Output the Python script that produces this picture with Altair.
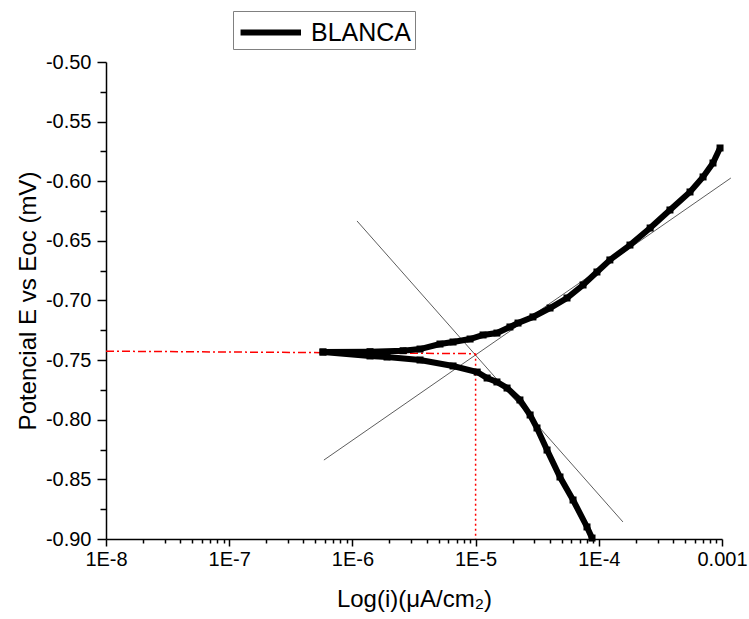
import altair as alt
import pandas as pd

# ---- data ----
# anodic (upper) branch : current density and potential
up_i = [5.77e-7, 1.39e-6, 2.58e-6, 3.54e-6, 5.14e-6, 6.56e-6, 9.02e-6, 1.15e-5,
        1.49e-5, 1.90e-5, 2.21e-5, 2.92e-5, 4.02e-5, 5.52e-5, 7.45e-5, 9.66e-5,
        1.23e-4, 1.79e-4, 2.61e-4, 3.78e-4, 5.50e-4, 7.02e-4, 8.45e-4, 9.64e-4]
up_E = [-0.7432, -0.7429, -0.7421, -0.7407, -0.7365, -0.7348, -0.7323, -0.7289,
        -0.7273, -0.7222, -0.7189, -0.7138, -0.7063, -0.6979, -0.6870, -0.6761,
        -0.6660, -0.6535, -0.6392, -0.6241, -0.6090, -0.5964, -0.5847, -0.5721]
# cathodic (lower) branch
lo_i = [5.77e-7, 1.39e-6, 1.91e-6, 3.54e-6, 6.56e-6, 1.03e-5, 1.24e-5, 1.49e-5,
        1.80e-5, 2.29e-5, 2.77e-5, 3.15e-5, 3.80e-5, 4.84e-5, 6.18e-5, 8.02e-5, 8.81e-5]
lo_E = [-0.7432, -0.7465, -0.7474, -0.7499, -0.7549, -0.7600, -0.7650, -0.7683,
        -0.7734, -0.7834, -0.7960, -0.8069, -0.8254, -0.8480, -0.8673, -0.8899, -0.8992]

# Tafel extrapolation lines
tafel_c_i = [1.09e-6, 1.57e-4]
tafel_c_E = [-0.6333, -0.8857]
tafel_a_i = [5.87e-7, 1.18e-3]
tafel_a_E = [-0.8338, -0.5973]

# Ecorr / icorr guide lines
ecorr_i = [1e-8, 1e-5]
ecorr_E = [-0.7425, -0.7446]
icorr_i = [1e-5, 1e-5]
icorr_E = [-0.7446, -0.90]

series_name = "BLANCA"
x_title = "Log(i)(μA/cm₂)"
y_title = "Potencial E vs Eoc (mV)"

# tick positions
x_ticks = []
for d in range(-8, -3):
    for k in range(1, 10):
        x_ticks.append(float(f"{k}e{d}"))
x_ticks.append(1e-3)
y_ticks = [round(-0.9 + 0.025 * k, 3) for k in range(17)]

# ---- tables ----
curve = pd.DataFrame({
    "i": up_i + lo_i,
    "E": up_E + lo_E,
    "branch": ["up"] * len(up_i) + ["lo"] * len(lo_i),
    "k": list(range(len(up_i))) + list(range(len(lo_i))),
    "serie": [series_name] * (len(up_i) + len(lo_i)),
})
tafel = pd.DataFrame({
    "i": tafel_c_i + tafel_a_i,
    "E": tafel_c_E + tafel_a_E,
    "line": ["c", "c", "a", "a"],
})
ecorr = pd.DataFrame({"i": ecorr_i, "E": ecorr_E})
icorr = pd.DataFrame({"i": icorr_i, "E": icorr_E})

FONT = "Liberation Sans"
DEC = "abs(log(datum.value)/LN10 - round(log(datum.value)/LN10)) < 0.01"
YMAJ = "abs(datum.value*20 - round(datum.value*20)) < 0.01"

xscale = alt.Scale(type="log", domain=[1e-8, 1e-3], nice=False)
yscale = alt.Scale(domain=[-0.9, -0.5], nice=False, zero=False)

xaxis = alt.Axis(
    values=x_ticks,
    labelExpr=f"({DEC}) ? (datum.value > 0.0005 ? '0.001' : '1E' + round(log(datum.value)/LN10)) : ''",
    tickSize={"condition": {"test": DEC, "value": 7}, "value": 4},
    labelOverlap=False, labelFlush=False, grid=False,
    title=x_title, labelPadding=3, titlePadding=18,
)
yaxis = alt.Axis(
    values=y_ticks,
    labelExpr=f"({YMAJ}) ? '-' + format(abs(datum.value), '.2f') : ''",
    tickSize={"condition": {"test": YMAJ, "value": 9}, "value": 6},
    labelOverlap=False, labelFlush=False, grid=False,
    title=y_title, labelPadding=6, titlePadding=5,
)

X = alt.X("i:Q", scale=xscale, axis=xaxis)
Y = alt.Y("E:Q", scale=yscale, axis=yaxis)

lines = alt.Chart(curve).mark_line(strokeWidth=6, clip=False).encode(
    x=X, y=Y, detail="branch:N", order="k:Q",
    color=alt.Color("serie:N", scale=alt.Scale(range=["black"]),
                    legend=alt.Legend(title=None, orient="none", legendX=127, legendY=-51,
                                      symbolType="M-0.9,0H3", symbolStrokeWidth=6, symbolSize=961,
                                      labelFontSize=25, labelFont=FONT, labelColor="black",
                                      strokeColor="#808080", fillColor="white", padding=3,
                                      labelOffset=38)),
)
pts = alt.Chart(curve).mark_square(size=49, color="black", opacity=1, clip=False).encode(x=X, y=Y)

tafel_l = alt.Chart(tafel).mark_line(color="#333333", strokeWidth=0.8, clip=False).encode(
    x=X, y=Y, detail="line:N")
ecorr_l = alt.Chart(ecorr).mark_line(color="#ff0000", strokeWidth=1.5, strokeDash=[8, 3, 2, 3]).encode(x=X, y=Y)
icorr_l = alt.Chart(icorr).mark_line(color="#ff0000", strokeWidth=1.5, strokeDash=[2, 3]).encode(x=X, y=Y)

chart = alt.layer(tafel_l, ecorr_l, icorr_l, lines, pts).properties(
    width=616, height=477,
    autosize=alt.AutoSizeParams(type="none"),
    padding={"left": 106, "top": 62, "right": 27, "bottom": 80},
).configure_view(stroke=None).configure_axis(
    labelFont=FONT, labelFontSize=20, labelColor="black",
    titleFont=FONT, titleFontSize=24, titleFontWeight="normal", titleColor="black",
    domainColor="black", domainWidth=1.5, tickColor="black", tickWidth=1.5,
)

chart.save("out.html", embed_options={"renderer": "svg", "actions": False})
